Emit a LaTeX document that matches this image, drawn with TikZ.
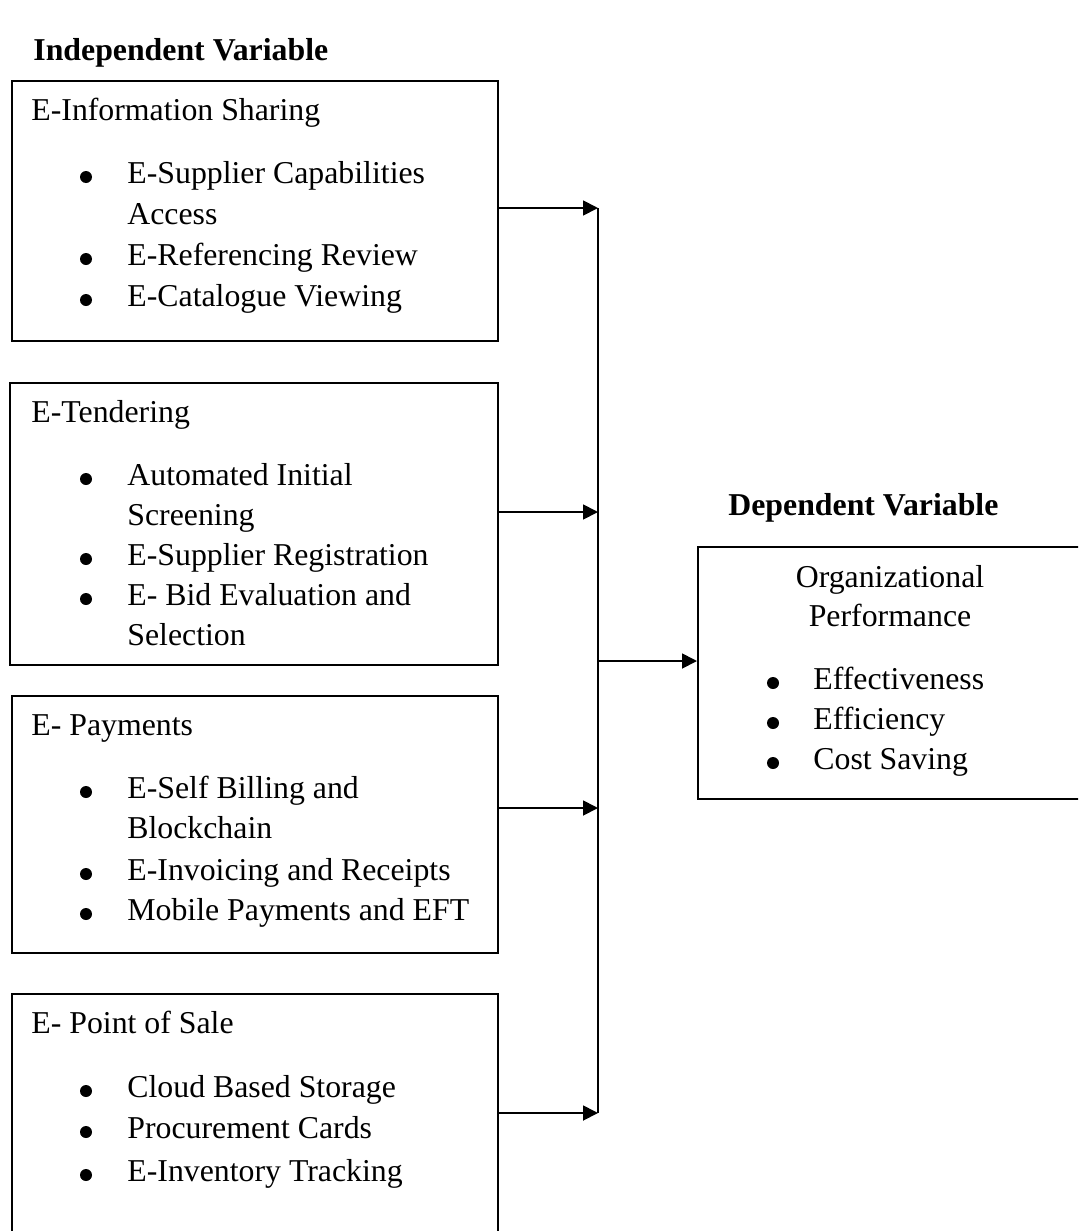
\documentclass[tikz,border=0pt]{standalone}
\usepackage{fontspec}
\setmainfont{Liberation Serif}
\usetikzlibrary{arrows.meta}

\tikzset{
  varbox/.style={draw, line width=0.9pt, anchor=north west, inner sep=0pt},
  heading/.style={anchor=base west, inner sep=0pt, font=\fontsize{15.9}{20.5}\selectfont\bfseries},
  boxtitle/.style={anchor=base west, inner sep=0pt},
  rowtext/.style={anchor=base west, inner sep=0pt},
  centred/.style={anchor=base, inner sep=0pt},
  bulletmark/.style={circle, fill, inner sep=0pt, minimum size=6pt},
  link/.style={line width=0.9pt, -{Triangle[length=7.5pt,width=7.5pt]}},
  bus/.style={line width=0.9pt}
}

\begin{document}
\begin{tikzpicture}[x=0.5pt,y=-0.5pt,font=\fontsize{15.9}{20.5}\selectfont]
\useasboundingbox (0,0) rectangle (1078,1231);
\clip (0,0) rectangle (1078,1231);
% headings
\node[heading] (indep) at (33,60) {Independent Variable};
\node[heading] (dep) at (728,515) {Dependent Variable};
% boxes
\node[varbox, minimum width=243pt, minimum height=130pt] (info) at (11,80) {};
\node[varbox, minimum width=244pt, minimum height=141pt] (tender) at (9,382) {};
\node[varbox, minimum width=243pt, minimum height=128.5pt] (pay) at (11,695) {};
\node[varbox, minimum width=243pt, minimum height=135pt] (pos) at (11,993) {};
\node[varbox, minimum width=200pt, minimum height=126pt] (perf) at (697,546) {};
% E-Information Sharing
\node[boxtitle] (info-t) at (31,120) {E-Information Sharing};
\node[bulletmark] (info-b1) at (86,177) {};
\node[rowtext] (info-1) at (127,183) {E-Supplier Capabilities};
\node[rowtext] (info-1b) at (127,224) {Access};
\node[bulletmark] (info-b2) at (86,259) {};
\node[rowtext] (info-2) at (127,265) {E-Referencing Review};
\node[bulletmark] (info-b3) at (86,300) {};
\node[rowtext] (info-3) at (127,306) {E-Catalogue Viewing};
% E-Tendering
\node[boxtitle] (tender-t) at (31,422) {E-Tendering};
\node[bulletmark] (tender-b1) at (86,479) {};
\node[rowtext] (tender-1) at (127,485) {Automated Initial};
\node[rowtext] (tender-1b) at (127,525) {Screening};
\node[bulletmark] (tender-b2) at (86,559) {};
\node[rowtext] (tender-2) at (127,565) {E-Supplier Registration};
\node[bulletmark] (tender-b3) at (86,599) {};
\node[rowtext] (tender-3) at (127,605) {E- Bid Evaluation and};
\node[rowtext] (tender-3b) at (127,645) {Selection};
% E- Payments
\node[boxtitle] (pay-t) at (31,735) {E- Payments};
\node[bulletmark] (pay-b1) at (86,792) {};
\node[rowtext] (pay-1) at (127,798) {E-Self Billing and};
\node[rowtext] (pay-1b) at (127,838) {Blockchain};
\node[bulletmark] (pay-b2) at (86,874) {};
\node[rowtext] (pay-2) at (127,880) {E-Invoicing and Receipts};
\node[bulletmark] (pay-b3) at (86,914) {};
\node[rowtext] (pay-3) at (127,920) {Mobile Payments and EFT};
% E- Point of Sale
\node[boxtitle] (pos-t) at (31,1033) {E- Point of Sale};
\node[bulletmark] (pos-b1) at (86,1091) {};
\node[rowtext] (pos-1) at (127,1097) {Cloud Based Storage};
\node[bulletmark] (pos-b2) at (86,1132) {};
\node[rowtext] (pos-2) at (127,1138) {Procurement Cards};
\node[bulletmark] (pos-b3) at (86,1175) {};
\node[rowtext] (pos-3) at (127,1181) {E-Inventory Tracking};
% Organizational Performance
\node[centred] (perf-t1) at (890,587) {Organizational};
\node[centred] (perf-t2) at (890,626) {Performance};
\node[bulletmark] (perf-b1) at (773,683) {};
\node[rowtext] (perf-1) at (813,689) {Effectiveness};
\node[bulletmark] (perf-b2) at (773,723) {};
\node[rowtext] (perf-2) at (813,729) {Efficiency};
\node[bulletmark] (perf-b3) at (773,763) {};
\node[rowtext] (perf-3) at (813,769) {Cost Saving};
% connectors
\coordinate (bus-1) at (598,208);
\coordinate (bus-2) at (598,512);
\coordinate (bus-3) at (598,808);
\coordinate (bus-4) at (598,1113);
\coordinate (bus-m) at (598,661);
\draw[link] (info.east |- bus-1) -- (bus-1);
\draw[link] (tender.east |- bus-2) -- (bus-2);
\draw[link] (pay.east |- bus-3) -- (bus-3);
\draw[link] (pos.east |- bus-4) -- (bus-4);
\draw[bus] (bus-1) -- (bus-4);
\draw[link] (bus-m) -- (perf.west |- bus-m);
\end{tikzpicture}
\end{document}
